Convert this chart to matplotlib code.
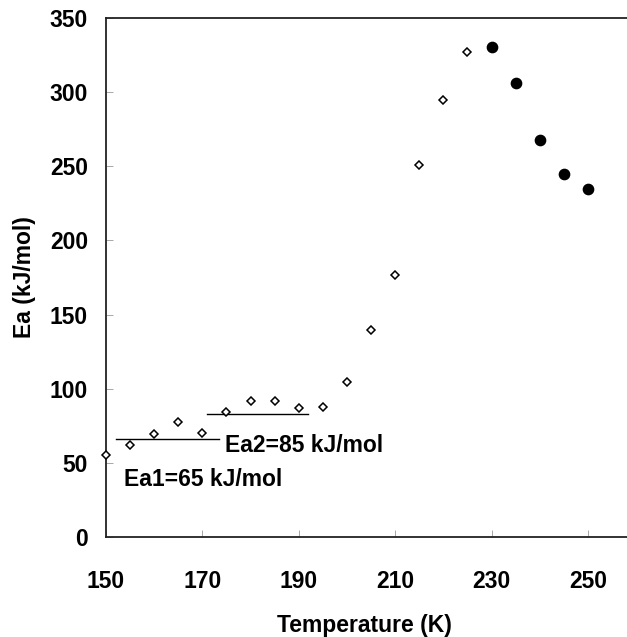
#!/usr/bin/env python3
import matplotlib
matplotlib.use("Agg")
import matplotlib.pyplot as plt

# open diamonds: low temperature region
temp_open = [150, 155, 160, 165, 170, 175, 180, 185, 190, 195, 200, 205, 210, 215, 220, 225]
ea_open = [55, 62, 69.5, 77.5, 70, 84, 92, 92, 87, 87.5, 104.5, 139.5, 177, 251, 295, 327]

# filled circles: high temperature region
temp_filled = [230, 235, 240, 245, 250]
ea_filled = [330.5, 306.5, 267.5, 244.5, 235]

# horizontal fit lines (x start, x end, level)
fit_lines = [(152, 173.5, 66), (171, 192, 83)]
fit_labels = ["Ea1=65 kJ/mol", "Ea2=85 kJ/mol"]
label_pos = [(153.8, 38.5), (174.6, 62)]

plt.rcParams["font.family"] = ["Liberation Sans", "DejaVu Sans"]
plt.rcParams["font.weight"] = "bold"

fig = plt.figure(figsize=(6.27, 6.37), dpi=100)
ax = fig.add_axes([106 / 627, 1 - 537 / 637, 1 - 106 / 627, (537 - 18) / 637])

ax.plot(temp_open, ea_open, linestyle="none", marker="D", markersize=4.2,
        markerfacecolor="white", markeredgecolor="black", markeredgewidth=1.1,
        clip_on=False, zorder=3)
ax.plot(temp_filled, ea_filled, linestyle="none", marker="o", markersize=7.4,
        color="black", clip_on=False, zorder=3)

for (x0, x1, lvl), txt, (tx, ty) in zip(fit_lines, fit_labels, label_pos):
    ax.plot([x0, x1], [lvl, lvl], color="black", linewidth=1.0)
    ax.text(tx, ty, txt, fontsize=16.5, fontweight="bold", ha="left", va="center")

ax.set_xlim(150, 258.1)
ax.set_ylim(0, 350)
ax.set_xticks([150, 170, 190, 210, 230, 250])
ax.set_yticks(range(0, 351, 50))

ax.spines["right"].set_visible(False)
for side in ("left", "bottom", "top"):
    ax.spines[side].set_linewidth(1.3)
    ax.spines[side].set_color("#222222")

ax.tick_params(axis="both", direction="in", length=5, width=0.6, color="#999999",
               labelsize=16.5)
ax.tick_params(axis="x", pad=24)
ax.tick_params(axis="y", pad=13)
for lbl in ax.get_xticklabels() + ax.get_yticklabels():
    lbl.set_fontweight("bold")

ax.set_xlabel("Temperature (K)", fontsize=16.5, fontweight="bold")
ax.set_ylabel("Ea (kJ/mol)", fontsize=16.5, fontweight="bold")
ax.xaxis.set_label_coords(0.497, -0.148)
ax.yaxis.set_label_coords(-0.134, 0.5)

fig.savefig("out.png", dpi=100)
